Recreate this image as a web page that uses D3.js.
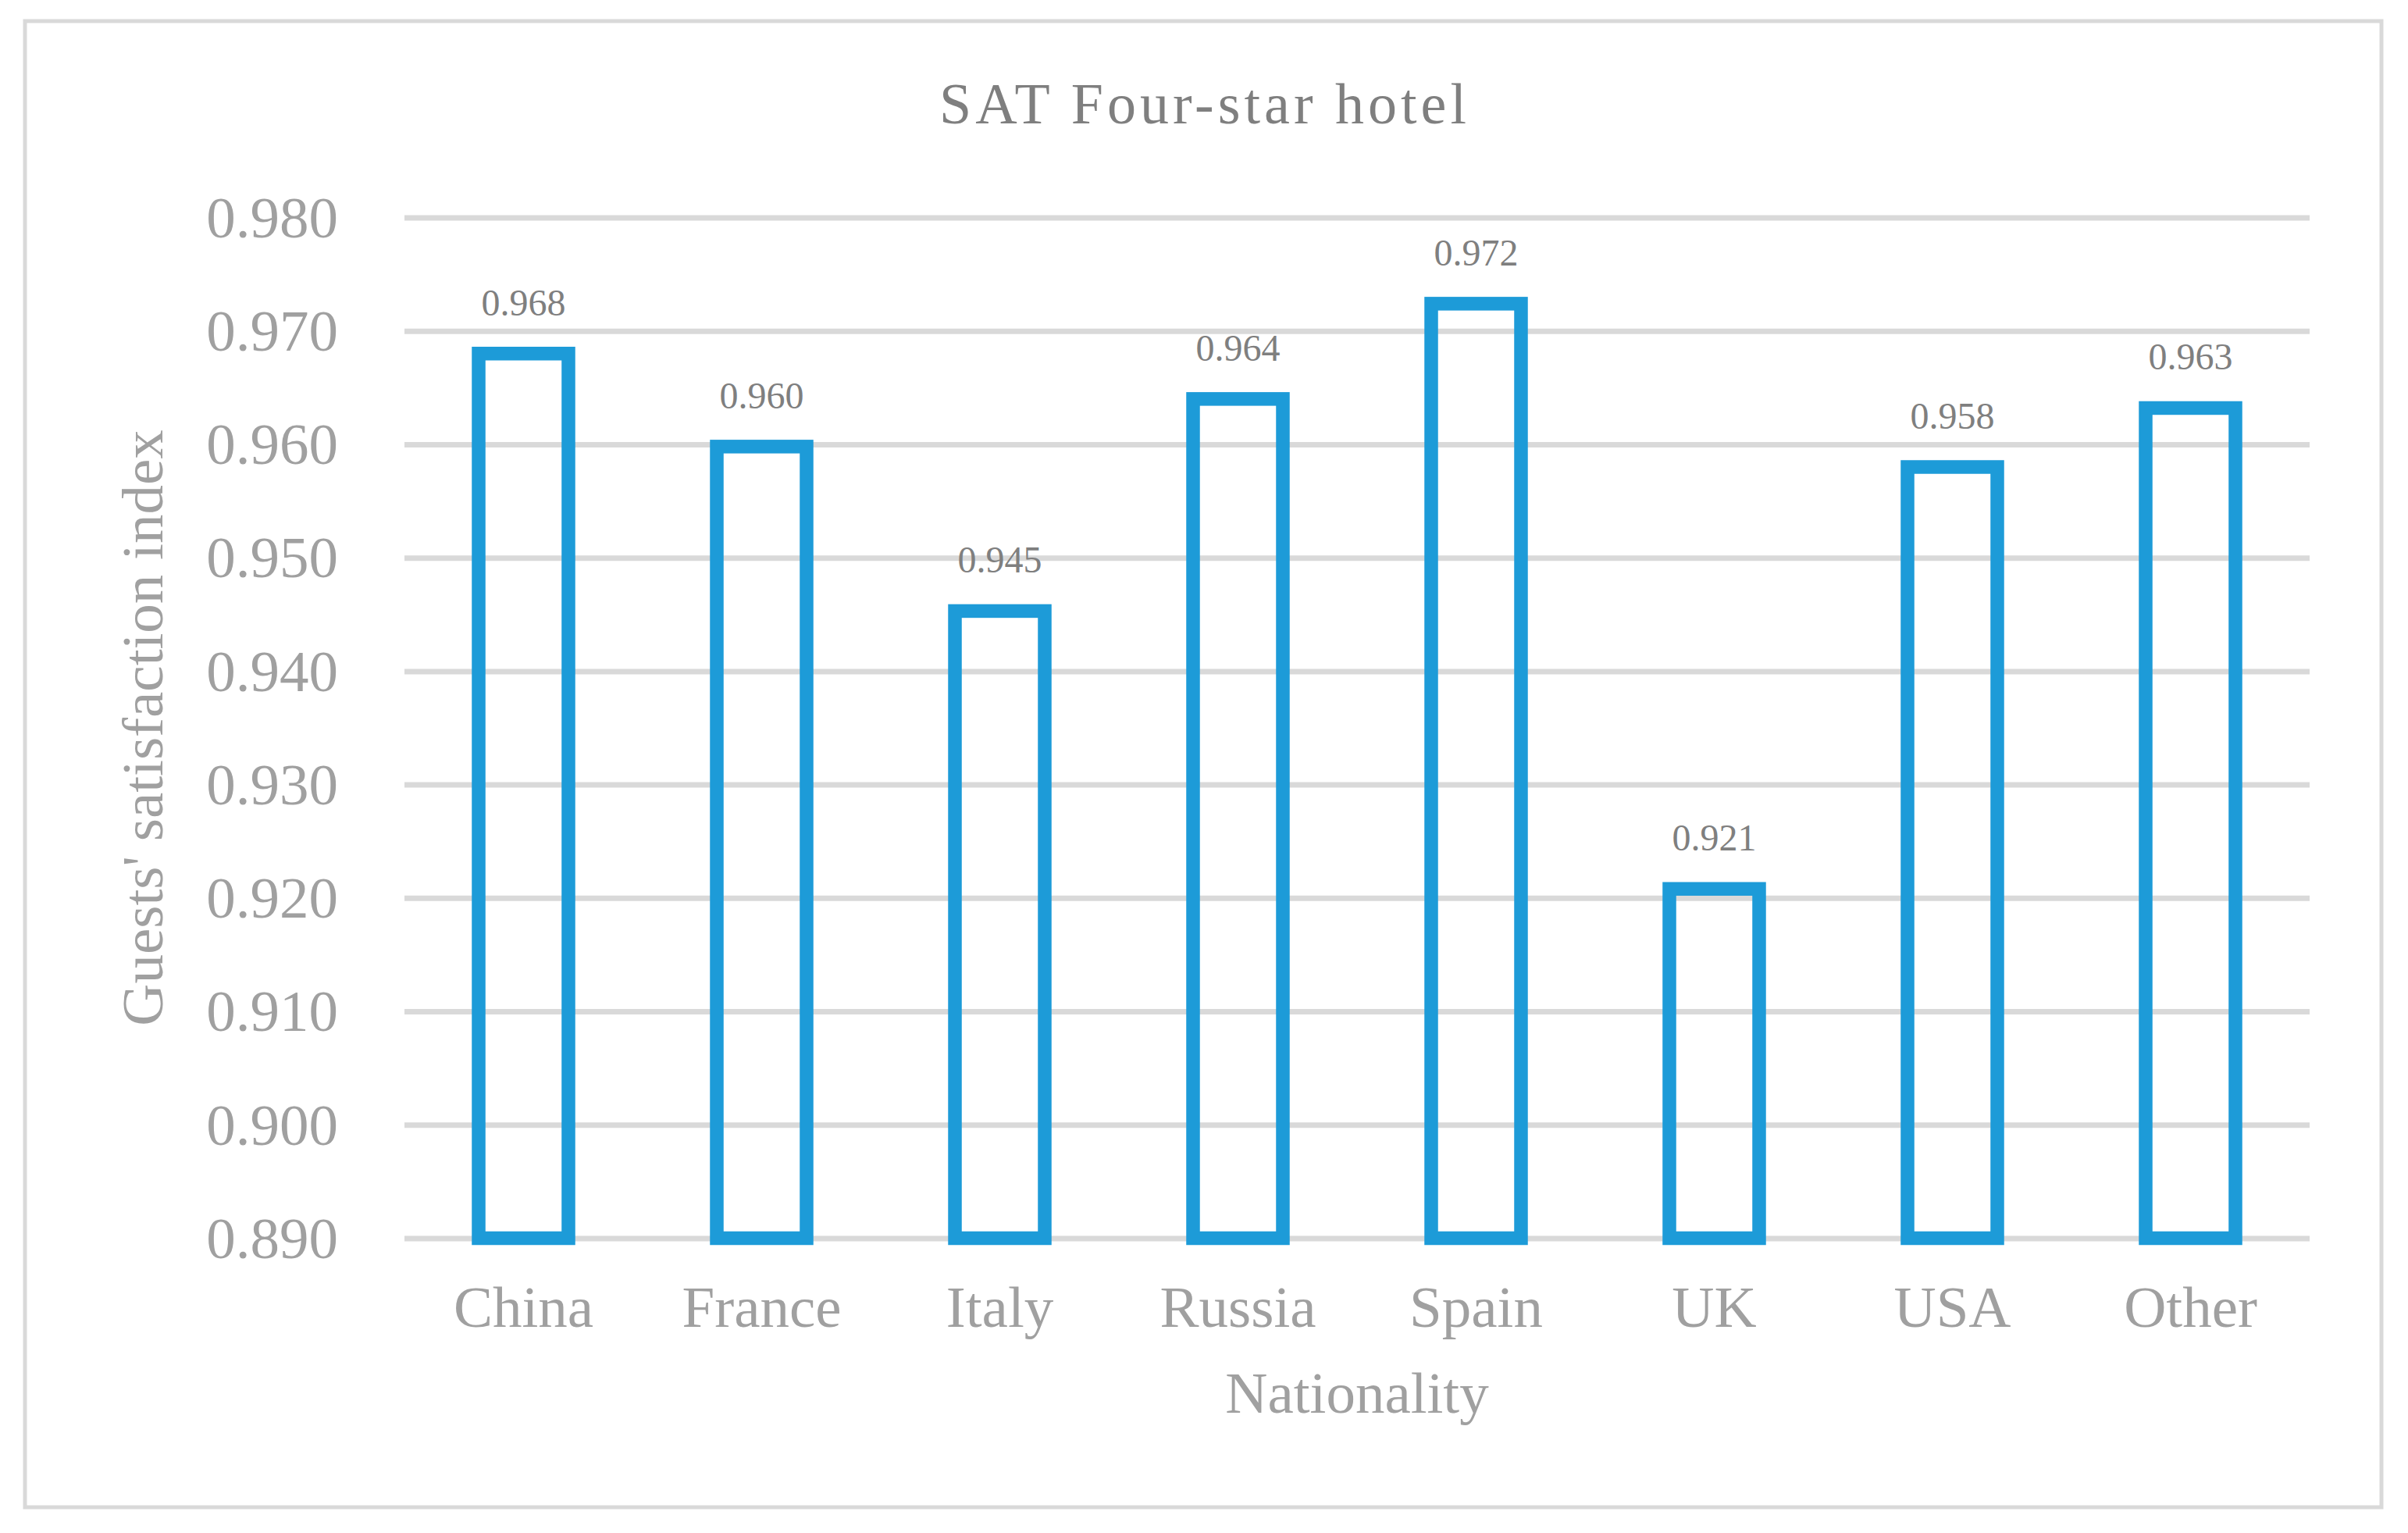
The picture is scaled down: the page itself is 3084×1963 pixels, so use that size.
<!DOCTYPE html>
<html>
<head>
<meta charset="utf-8">
<script src="https://d3js.org/d3.v7.min.js"></script>
<style>
  body { margin: 0; background: #fff; }
  svg text { font-family: "Liberation Serif", "Times New Roman", serif; }
</style>
</head>
<body>
<svg id="chart"></svg>
<script>
var nationalities = ["China", "France", "Italy", "Russia", "Spain", "UK", "USA", "Other"];
var satisfaction = [0.968, 0.9598, 0.9453, 0.964, 0.9724, 0.9208, 0.958, 0.9632];
var yTicks = [0.890, 0.900, 0.910, 0.920, 0.930, 0.940, 0.950, 0.960, 0.970, 0.980];
var chartTitle = "SAT Four-star hotel";
var xTitle = "Nationality";
var yTitle = "Guests' satisfaction index";

var width = 3084,
    height = 1963;

var plot = {left: 518, right: 2958, top: 278.5, bottom: 1585.5};

var svg = d3.select("#chart")
    .attr("width", width)
    .attr("height", height);

// chart border
svg.append("rect")
    .attr("x", 32)
    .attr("y", 27)
    .attr("width", 3050 - 32)
    .attr("height", 1930 - 27)
    .attr("fill", "#fff")
    .attr("stroke", "#d9d9d9")
    .attr("stroke-width", 5);

var x = d3.scaleBand()
    .domain(nationalities)
    .range([plot.left, plot.right])
    .paddingInner(0.623)
    .paddingOuter(0.3115);

var y = d3.scaleLinear()
    .domain([0.890, 0.980])
    .range([plot.bottom, plot.top]);

// y axis + gridlines
var yAxis = svg.append("g")
    .attr("transform", "translate(" + plot.left + ",0)")
    .call(d3.axisLeft(y)
      .tickValues(yTicks)
      .tickFormat(d3.format(".3f"))
      .tickSizeInner(-(plot.right - plot.left))
      .tickSizeOuter(0)
      .tickPadding(85));

yAxis.select(".domain").remove();
yAxis.selectAll(".tick line")
    .attr("stroke", "#d9d9d9")
    .attr("stroke-width", 7);
yAxis.selectAll(".tick text")
    .attr("fill", "#a0a0a0")
    .attr("font-size", 75)
    .attr("dy", "0.33em");

// x axis labels
var xAxis = svg.append("g")
    .attr("transform", "translate(0," + plot.bottom + ")")
    .call(d3.axisBottom(x).tickSize(0));

xAxis.select(".domain").remove();
xAxis.selectAll(".tick text")
    .attr("fill", "#a0a0a0")
    .attr("font-size", 75)
    .attr("y", 113.5)
    .attr("dy", 0);

// bars (outlined)
svg.append("g").selectAll("rect")
    .data(satisfaction)
    .enter().append("rect")
    .attr("x", function(d, i) { return x(nationalities[i]); })
    .attr("y", function(d) { return y(d); })
    .attr("width", x.bandwidth())
    .attr("height", function(d) { return y(0.890) - y(d); })
    .attr("fill", "none")
    .attr("stroke", "#1d9bd8")
    .attr("stroke-width", 17.5);

// value labels
svg.append("g").selectAll("text")
    .data(satisfaction)
    .enter().append("text")
    .attr("x", function(d, i) { return x(nationalities[i]) + x.bandwidth() / 2; })
    .attr("y", function(d) { return y(d) - 49; })
    .attr("text-anchor", "middle")
    .attr("font-size", 48)
    .attr("fill", "#7f7f7f")
    .text(function(d) { return d3.format(".3f")(d); });

// titles
svg.append("text")
    .attr("x", 1543)
    .attr("y", 158)
    .attr("text-anchor", "middle")
    .attr("font-size", 74)
    .attr("letter-spacing", "5px")
    .attr("fill", "#7f7f7f")
    .text(chartTitle);

svg.append("text")
    .attr("x", (plot.left + plot.right) / 2)
    .attr("y", 1809)
    .attr("text-anchor", "middle")
    .attr("font-size", 75)
    .attr("fill", "#a0a0a0")
    .text(xTitle);

svg.append("text")
    .attr("transform", "translate(208," + (plot.top + plot.bottom) / 2 + ") rotate(-90)")
    .attr("text-anchor", "middle")
    .attr("font-size", 75)
    .attr("fill", "#a0a0a0")
    .text(yTitle);
</script>
</body>
</html>
